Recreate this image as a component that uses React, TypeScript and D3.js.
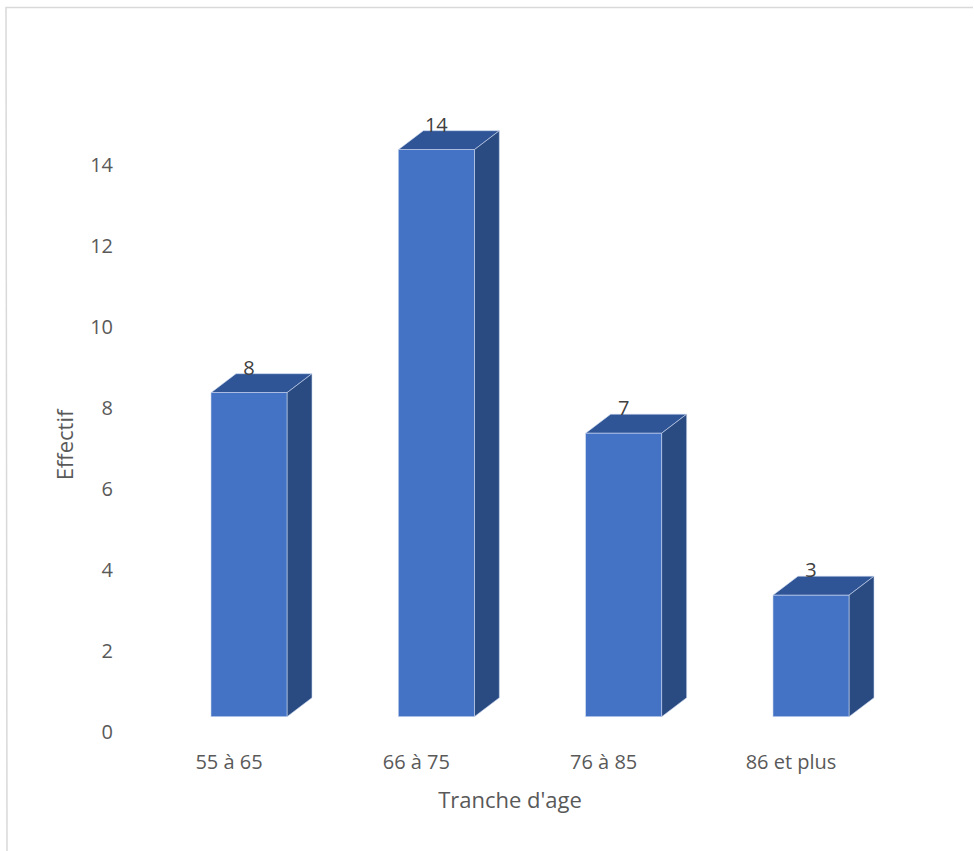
import React from "react";
import * as d3 from "d3";

const categories = ["55 à 65", "66 à 75", "76 à 85", "86 et plus"];
const values = [8, 14, 7, 3];
const yTicks = [0, 2, 4, 6, 8, 10, 12, 14];
const xTitle = "Tranche d'age";
const yTitle = "Effectif";

const W = 974;
const H = 851;
const FONT = "'Open Sans', 'Liberation Sans', sans-serif";
const TXT = "#595959";

export default function App() {
  const y = d3.scaleLinear().domain([0, 14]).range([716.7, 149.7]);
  const x = d3.scalePoint<string>().domain(categories).range([249, 811]);
  const bw = 76;
  const dx = 25;
  const dy = 19;
  const labelOffset = 15.3;

  return (
    <svg
      width={W}
      height={H}
      style={{ position: "absolute", left: 0, top: 0, background: "#fff" }}
    >
      <rect x={0} y={0} width={W} height={H} fill="#fff" />
      <path d={`M7,${H} L6,7.5 L973,7.5`} fill="none" stroke="#d9d9d9" strokeWidth={1.5} />

      {yTicks.map((t) => (
        <text
          key={t}
          x={113}
          y={y(t) + labelOffset + 7}
          textAnchor="end"
          fontFamily={FONT}
          fontSize={20}
          fill={TXT}
        >
          {t}
        </text>
      ))}

      {categories.map((c, i) => {
        const cx = x(c)!;
        const x0 = cx - bw / 2;
        const x1 = cx + bw / 2;
        const yb = y(0);
        const yt = y(values[i]);
        return (
          <g key={c}>
            <path
              d={`M${x0},${yt} L${x0 + dx},${yt - dy} L${x1 + dx},${yt - dy} L${x1},${yt} Z`}
              fill="#2F5597"
              stroke="#c9d6ee"
              strokeWidth={0.6}
            />
            <path
              d={`M${x1},${yt} L${x1 + dx},${yt - dy} L${x1 + dx},${yb - dy} L${x1},${yb} Z`}
              fill="#2A4A82"
              stroke="#c9d6ee"
              strokeWidth={0.6}
            />
            <rect
              x={x0}
              y={yt}
              width={bw}
              height={yb - yt}
              fill="#4472C4"
              stroke="#c9d6ee"
              strokeWidth={0.6}
            />
            <text
              x={cx}
              y={yt - dy + 1}
              textAnchor="middle"
              fontFamily={FONT}
              fontSize={20}
              fill="#404040"
            >
              {values[i]}
            </text>
            <text
              x={cx - 20}
              y={769}
              textAnchor="middle"
              fontFamily={FONT}
              fontSize={20}
              fill={TXT}
            >
              {c}
            </text>
          </g>
        );
      })}

      <text
        x={510}
        y={808}
        textAnchor="middle"
        fontFamily={FONT}
        fontSize={22}
        fill={TXT}
      >
        {xTitle}
      </text>
      <text
        transform={`translate(73,445) rotate(-90)`}
        textAnchor="middle"
        fontFamily={FONT}
        fontSize={22}
        fill={TXT}
      >
        {yTitle}
      </text>
    </svg>
  );
}
